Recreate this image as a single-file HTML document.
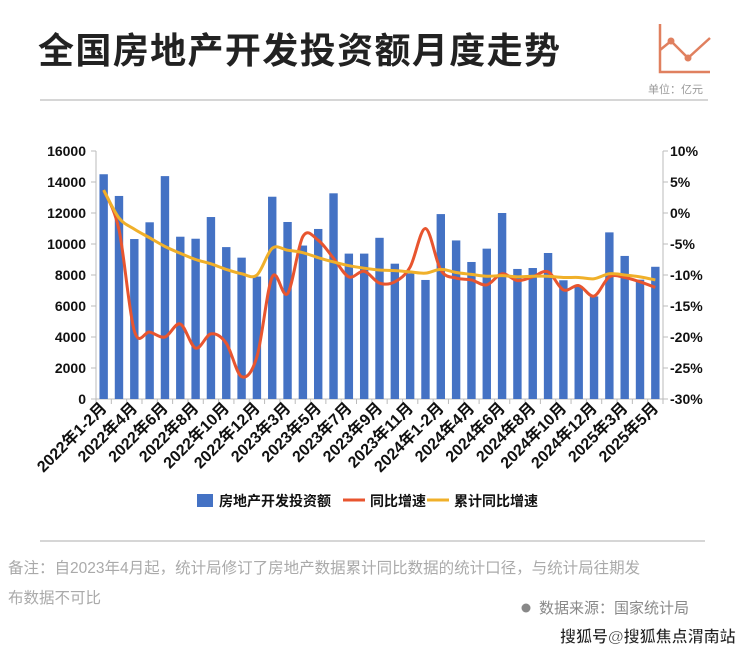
<!DOCTYPE html>
<html><head><meta charset="utf-8"><style>
body{margin:0;width:740px;height:653px;background:#fff;overflow:hidden;font-family:"Liberation Sans","Noto Sans CJK SC",sans-serif;}
svg{display:block}
</style></head><body>
<svg id="s" width="740" height="653" xmlns="http://www.w3.org/2000/svg" font-family="Liberation Sans, Noto Sans CJK SC, sans-serif">
<text x="38" y="63" font-size="36" font-weight="bold" fill="#222" textLength="522">全国房地产开发投资额月度走势</text>
<line x1="40" y1="100" x2="708" y2="100" stroke="#c8c8c8" stroke-width="1.5"/>
<g stroke="#e0805f" stroke-width="2.5" fill="none"><polyline points="660,24 660,72 710,72"/><polyline points="660,50 671,41 688,58 710,38"/></g>
<circle cx="671" cy="41" r="3.5" fill="#e0805f"/><circle cx="688" cy="58" r="3.5" fill="#e0805f"/>
<text x="648" y="93" font-size="11" fill="#999">单位：亿元</text>
<g id="g"></g>
<line x1="40" y1="541" x2="705" y2="541" stroke="#c8c8c8" stroke-width="1.5"/>
<text x="8" y="573" font-size="15.5" fill="#aaa">备注：自2023年4月起，统计局修订了房地产数据累计同比数据的统计口径，与统计局往期发</text>
<text x="8" y="603" font-size="15.5" fill="#aaa">布数据不可比</text>
<circle cx="526" cy="608" r="4.5" fill="#888"/>
<text x="539" y="613" font-size="15" fill="#888">数据来源：国家统计局</text>
<text x="560" y="642" font-size="16" font-weight="bold" fill="#222" stroke="#fff" stroke-width="0.5">搜狐号@搜狐焦点渭南站</text>
</svg>
<script>
var bars=[14500,13100,10320,11400,14380,10470,10340,11740,9800,9120,7900,13050,11420,9900,10970,13270,9380,9380,10400,8730,8100,7680,11930,10230,8840,9700,12000,8390,8450,9420,7660,7230,6620,10750,9230,7700,8530];
var red=[3.7,-2.7,-19,-19.2,-20,-17.9,-21.8,-19.5,-21,-26.4,-23.2,-10.3,-13,-3.8,-4.4,-7.3,-10.3,-9.4,-11.3,-11.1,-8.7,-2.5,-9.2,-10.5,-10.8,-11.6,-9.8,-10.9,-10.3,-9.5,-12.4,-11.7,-13.4,-10.3,-10.4,-11.1,-12.0];
var yel=[3.7,-0.8,-2.6,-4.0,-5.4,-6.5,-7.5,-8.2,-9.1,-9.8,-10,-5.7,-6.0,-6.4,-7.2,-7.9,-8.5,-8.9,-9.2,-9.3,-9.5,-9.7,-9.1,-9.6,-9.9,-10.2,-10.1,-10.3,-10.2,-10.2,-10.4,-10.4,-10.6,-9.8,-10.0,-10.3,-10.8];
var labs=["2022年1-2月","2022年4月","2022年6月","2022年8月","2022年10月","2022年12月","2023年3月","2023年5月","2023年7月","2023年9月","2023年11月","2024年1-2月","2024年4月","2024年6月","2024年8月","2024年10月","2024年12月","2025年3月","2025年5月"];
var L=96,R=663,T=151,B=399,n=37,w=(R-L)/n;
function X(i){return L+w*(i+0.5)}
function YL(v){return B-v/16000*(B-T)}
function YR(v){return T+(10-v)/40*(B-T)}
var h='';
h+='<line x1="'+L+'" y1="'+T+'" x2="'+L+'" y2="'+B+'" stroke="#bbb"/>';
h+='<line x1="'+R+'" y1="'+T+'" x2="'+R+'" y2="'+B+'" stroke="#bbb"/>';
h+='<line x1="'+L+'" y1="'+B+'" x2="'+R+'" y2="'+B+'" stroke="#bbb"/>';
for(var k=0;k<=8;k++){var y=YL(k*2000);h+='<line x1="'+(L-5)+'" y1="'+y+'" x2="'+L+'" y2="'+y+'" stroke="#bbb"/><text x="86" y="'+(y+5)+'" font-size="14" font-weight="bold" text-anchor="end" fill="#111">'+k*2000+'</text>';
var v=-30+k*5;h+='<line x1="'+R+'" y1="'+y+'" x2="'+(R+5)+'" y2="'+y+'" stroke="#bbb"/><text x="670" y="'+(y+5)+'" font-size="14" font-weight="bold" fill="#111">'+v+'%</text>';}
for(var i=0;i<=n;i++){var x=L+w*i;h+='<line x1="'+x+'" y1="'+B+'" x2="'+x+'" y2="'+(B+5)+'" stroke="#bbb"/>';}
for(var i=0;i<n;i++){var y=YL(bars[i]);h+='<rect x="'+(X(i)-4.2)+'" y="'+y+'" width="8.4" height="'+(B-y)+'" fill="#4472c4"/>';}
function path(a){var p=a.map(function(v,i){return [X(i),YR(v)]});var d='M'+p[0][0]+','+p[0][1];
for(var i=0;i<p.length-1;i++){var p0=p[i-1]||p[i],p1=p[i],p2=p[i+1],p3=p[i+2]||p2;
d+=' C'+(p1[0]+(p2[0]-p0[0])/6)+','+(p1[1]+(p2[1]-p0[1])/6)+' '+(p2[0]-(p3[0]-p1[0])/6)+','+(p2[1]-(p3[1]-p1[1])/6)+' '+p2[0]+','+p2[1];}return d;}
h+='<path d="'+path(red)+'" fill="none" stroke="#e8552f" stroke-width="3"/>';
h+='<path d="'+path(yel)+'" fill="none" stroke="#f0b02a" stroke-width="3"/>';
for(var j=0;j<labs.length;j++){var x=X(j*2)+4,y=409;h+='<text transform="translate('+x+','+y+') rotate(-45)" font-size="16" font-weight="bold" text-anchor="end" fill="#111">'+labs[j]+'</text>';}
h+='<rect x="197" y="494" width="16" height="13" fill="#4472c4"/><text x="219" y="506" font-size="14" font-weight="bold" fill="#111">房地产开发投资额</text>';
h+='<line x1="343" y1="500" x2="365" y2="500" stroke="#e8552f" stroke-width="3"/><text x="370" y="506" font-size="14" font-weight="bold" fill="#111">同比增速</text>';
h+='<line x1="427" y1="500" x2="449" y2="500" stroke="#f0b02a" stroke-width="3"/><text x="454" y="506" font-size="14" font-weight="bold" fill="#111">累计同比增速</text>';
document.getElementById('g').innerHTML=h;
</script>
</body></html>
